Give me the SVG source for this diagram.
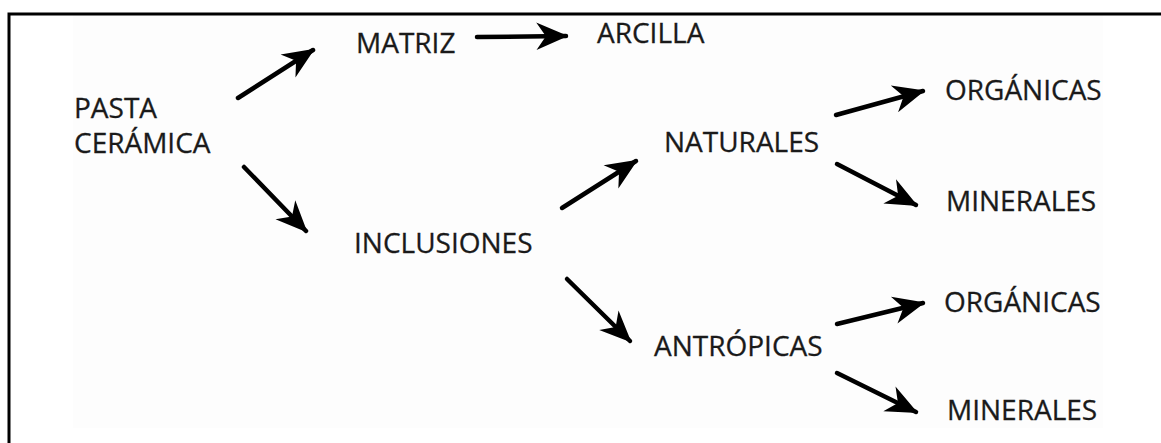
<svg xmlns="http://www.w3.org/2000/svg" width="1161" height="443" viewBox="0 0 1161 443">
  <style>
    .lbl { font-family: "Open Sans", "Liberation Sans", sans-serif; font-size: 28px; fill: #1a1a1a; stroke: #1a1a1a; stroke-width: 0.3px; }
    .arrow { stroke: #000; stroke-width: 4.5; stroke-linecap: round; fill: none; marker-end: url(#head); }
  </style>
  <defs>
    <marker id="head" markerUnits="userSpaceOnUse" markerWidth="36" markerHeight="34" viewBox="-31 -16 34 32" refX="0" refY="0" orient="auto">
      <path d="M2,0 L-28,-13 L-19,0 L-28,13 Z" fill="#000"/>
    </marker>
  </defs>

  <!-- page background and frame -->
  <rect x="0" y="0" width="1161" height="443" fill="#fff"/>
  <rect x="73" y="15" width="1030" height="413" fill="#fdfdfd"/>
  <path d="M9,443 V14 H1161" fill="none" stroke="#000" stroke-width="3"/>

  <!-- connectors -->
  <g id="connectors">
    <line class="arrow" x1="238" y1="98" x2="313" y2="50"/>
    <line class="arrow" x1="244" y1="167" x2="306" y2="231"/>
    <line class="arrow" x1="477" y1="37" x2="566" y2="36"/>
    <line class="arrow" x1="562" y1="208" x2="636" y2="161"/>
    <line class="arrow" x1="567" y1="279" x2="630" y2="341"/>
    <line class="arrow" x1="836" y1="115" x2="923" y2="91"/>
    <line class="arrow" x1="837" y1="164" x2="916" y2="205"/>
    <line class="arrow" x1="837" y1="324" x2="923" y2="303"/>
    <line class="arrow" x1="837" y1="373" x2="916" y2="412"/>
  </g>

  <!-- nodes -->
  <g id="pasta-ceramica">
    <text class="lbl" x="74" y="118">PASTA</text>
    <text class="lbl" x="74" y="153">CERÁMICA</text>
  </g>
  <g id="matriz"><text class="lbl" x="356" y="53">MATRIZ</text></g>
  <g id="arcilla"><text class="lbl" x="597" y="43">ARCILLA</text></g>
  <g id="inclusiones"><text class="lbl" x="354" y="253">INCLUSIONES</text></g>
  <g id="naturales"><text class="lbl" x="664" y="152">NATURALES</text></g>
  <g id="antropicas"><text class="lbl" x="654" y="356">ANTRÓPICAS</text></g>
  <g id="organicas-nat"><text class="lbl" x="945" y="100">ORGÁNICAS</text></g>
  <g id="minerales-nat"><text class="lbl" x="946" y="211">MINERALES</text></g>
  <g id="organicas-ant"><text class="lbl" x="944" y="312">ORGÁNICAS</text></g>
  <g id="minerales-ant"><text class="lbl" x="947" y="420">MINERALES</text></g>
</svg>
